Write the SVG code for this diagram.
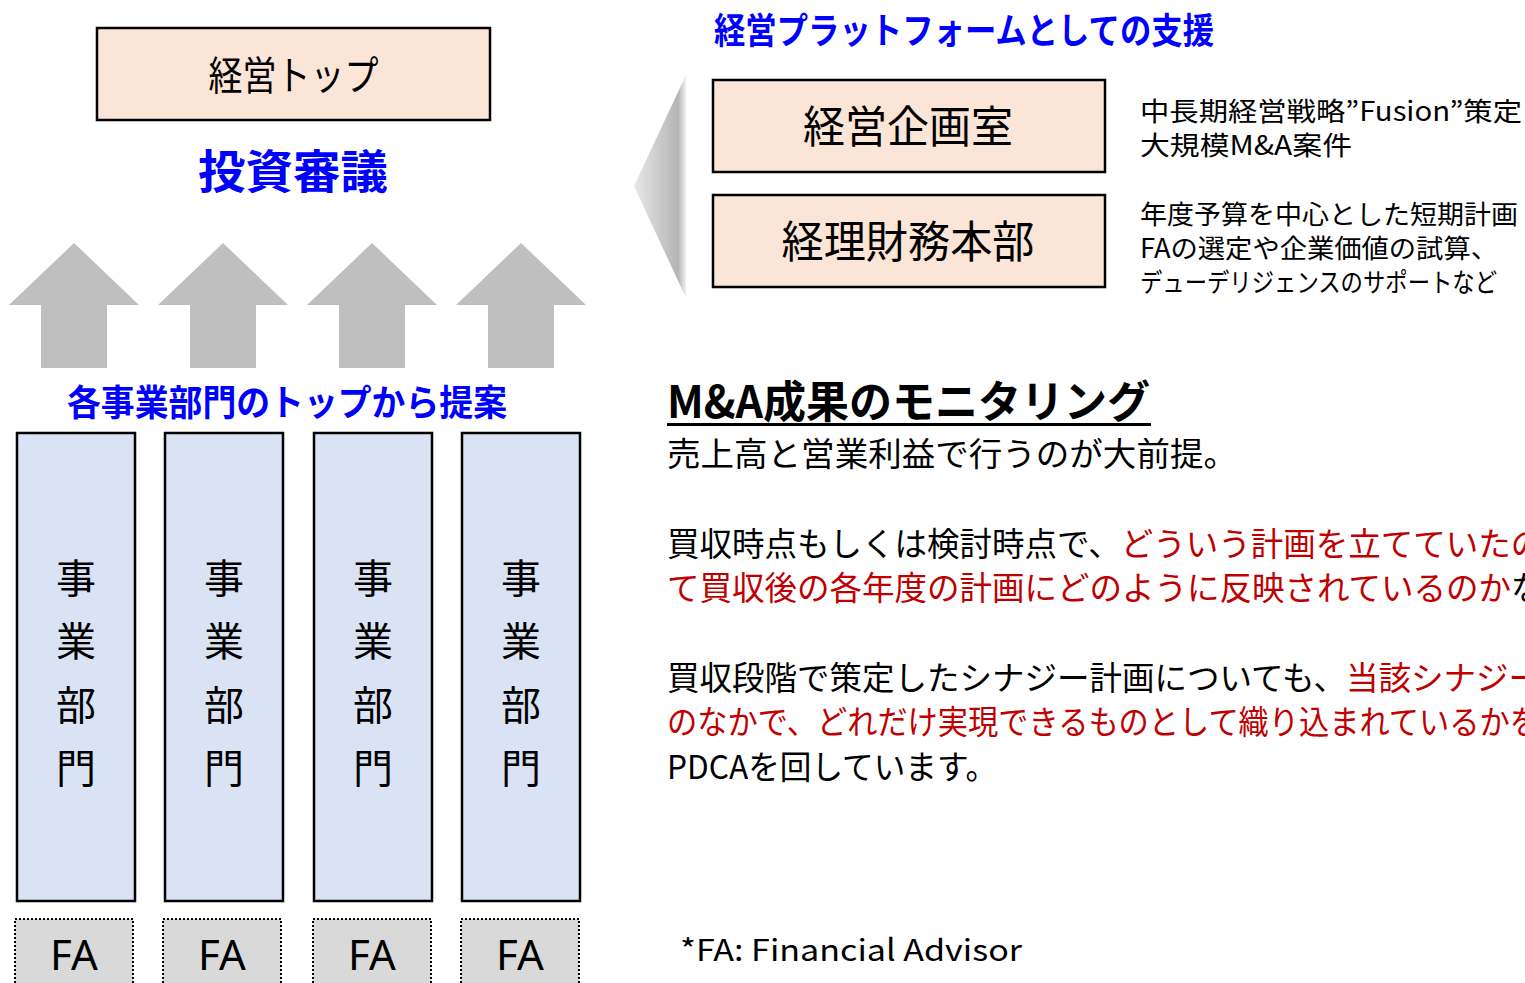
<svg xmlns="http://www.w3.org/2000/svg" width="1525" height="983" viewBox="0 0 1525 983">
<defs>
<linearGradient id="chev" x1="0" y1="0" x2="1" y2="0">
<stop offset="0" stop-color="#E8E8E8"/>
<stop offset="0.85" stop-color="#B4B4B4"/>
<stop offset="1" stop-color="#F2F2F2"/>
</linearGradient>
</defs>
<style>
text{font-family:"Noto Sans CJK JP","Noto Sans",sans-serif;}
.peach{fill:#FBE5D6;stroke:#000;stroke-width:2.5;}
.dept{fill:#DAE3F3;stroke:#000;stroke-width:2.5;}
.fa{fill:#D9D9D9;stroke:#000;stroke-width:2;stroke-dasharray:2 2;}
.arrow{fill:#BFBFBF;}
.blue{fill:#0000FF;font-weight:bold;}
.blk{fill:#000;}
.red{fill:#C00000;}
.body{font-size:32.5px;}
.side{font-size:26.5px;fill:#000;}
.vt{font-size:40px;fill:#000;text-anchor:middle;}
.fat{font-family:"Noto Sans","Open Sans",sans-serif;font-size:42px;fill:#000;text-anchor:middle;}
</style>

<g id="connectors">
<polygon class="arrow" points="74,243 139,305 107,305 107,368 41,368 41,305 9,305"/>
<polygon class="arrow" points="223,243 288,305 256,305 256,368 190,368 190,305 158,305"/>
<polygon class="arrow" points="372,243 437,305 405,305 405,368 339,368 339,305 307,305"/>
<polygon class="arrow" points="521,243 586,305 554,305 554,368 488,368 488,305 456,305"/>
<polygon fill="url(#chev)" points="634,186 686,75 686,298"/>
</g>

<g id="top">
<rect class="peach" x="97" y="28" width="393" height="92"/>
<text x="293.5" y="90" font-size="40" text-anchor="middle" textLength="170" lengthAdjust="spacingAndGlyphs">経営トップ</text>
</g>

<g id="label-shinsa">
<text class="blue" x="293" y="188" font-size="46" text-anchor="middle" textLength="190" lengthAdjust="spacingAndGlyphs">投資審議</text>
</g>

<g id="label-teian">
<text class="blue" x="287" y="416" font-size="36" text-anchor="middle" textLength="440" lengthAdjust="spacingAndGlyphs">各事業部門のトップから提案</text>
</g>

<g id="dept1">
<rect class="dept" x="17" y="433" width="118" height="468"/>
<text class="vt" x="76" y="593">事</text><text class="vt" x="76" y="656">業</text><text class="vt" x="76" y="720">部</text><text class="vt" x="76" y="783">門</text>
</g>
<g id="dept2">
<rect class="dept" x="165" y="433" width="118" height="468"/>
<text class="vt" x="224" y="593">事</text><text class="vt" x="224" y="656">業</text><text class="vt" x="224" y="720">部</text><text class="vt" x="224" y="783">門</text>
</g>
<g id="dept3">
<rect class="dept" x="314" y="433" width="118" height="468"/>
<text class="vt" x="373" y="593">事</text><text class="vt" x="373" y="656">業</text><text class="vt" x="373" y="720">部</text><text class="vt" x="373" y="783">門</text>
</g>
<g id="dept4">
<rect class="dept" x="462" y="433" width="118" height="468"/>
<text class="vt" x="521" y="593">事</text><text class="vt" x="521" y="656">業</text><text class="vt" x="521" y="720">部</text><text class="vt" x="521" y="783">門</text>
</g>

<g id="fa1"><rect class="fa" x="15" y="919" width="118" height="66"/><text class="fat" x="74" y="970">FA</text></g>
<g id="fa2"><rect class="fa" x="163" y="919" width="118" height="66"/><text class="fat" x="222" y="970">FA</text></g>
<g id="fa3"><rect class="fa" x="313" y="919" width="118" height="66"/><text class="fat" x="372" y="970">FA</text></g>
<g id="fa4"><rect class="fa" x="461" y="919" width="118" height="66"/><text class="fat" x="520" y="970">FA</text></g>

<g id="platform-title">
<text class="blue" x="714" y="44" font-size="36" textLength="500" lengthAdjust="spacingAndGlyphs">経営プラットフォームとしての支援</text>
</g>

<g id="keiei-kikaku">
<rect class="peach" x="713" y="80" width="392" height="92"/>
<text x="908" y="143" font-size="44" text-anchor="middle" textLength="210" lengthAdjust="spacingAndGlyphs">経営企画室</text>
</g>
<g id="keiei-kikaku-desc">
<text class="side" x="1140" y="121" textLength="382" lengthAdjust="spacingAndGlyphs">中長期経営戦略”Fusion”策定</text>
<text class="side" x="1140" y="155" textLength="212" lengthAdjust="spacingAndGlyphs">大規模M&amp;A案件</text>
</g>

<g id="keiri-zaimu">
<rect class="peach" x="713" y="195" width="392" height="92"/>
<text x="908" y="258" font-size="44" text-anchor="middle" textLength="253" lengthAdjust="spacingAndGlyphs">経理財務本部</text>
</g>
<g id="keiri-zaimu-desc">
<text class="side" x="1140" y="224" textLength="378" lengthAdjust="spacingAndGlyphs">年度予算を中心とした短期計画</text>
<text class="side" x="1140" y="258" textLength="358" lengthAdjust="spacingAndGlyphs">FAの選定や企業価値の試算、</text>
<text class="side" x="1140" y="292" textLength="357" lengthAdjust="spacingAndGlyphs">デューデリジェンスのサポートなど</text>
</g>

<g id="monitoring">
<text x="667" y="418" font-size="44" font-weight="bold" textLength="483" lengthAdjust="spacingAndGlyphs">M&amp;A成果のモニタリング</text>
<rect x="667" y="423" width="484" height="3" fill="#000"/>
<text class="body" x="667" y="466" textLength="570" lengthAdjust="spacingAndGlyphs">売上高と営業利益で行うのが大前提。</text>
<text class="body" x="667" y="556"><tspan class="blk">買収時点もしくは検討時点で、</tspan><tspan class="red">どういう計画を立てていたのか</tspan></text>
<text class="body" x="667" y="600"><tspan class="red">て買収後の各年度の計画にどのように反映されているのか</tspan><tspan class="blk">な</tspan></text>
<text class="body" x="667" y="690"><tspan class="blk">買収段階で策定したシナジー計画についても、</tspan><tspan class="red">当該シナジー</tspan></text>
<text class="body red" x="667" y="734" textLength="873" lengthAdjust="spacingAndGlyphs">のなかで、どれだけ実現できるものとして織り込まれているかを</text>
<text class="body" x="667" y="779" textLength="330" lengthAdjust="spacingAndGlyphs">PDCAを回しています。</text>
</g>

<g id="footnote">
<text x="680" y="961" font-size="30" font-family="'DejaVu Sans','Noto Sans',sans-serif" textLength="342" lengthAdjust="spacingAndGlyphs">*FA: Financial Advisor</text>
</g>
</svg>
